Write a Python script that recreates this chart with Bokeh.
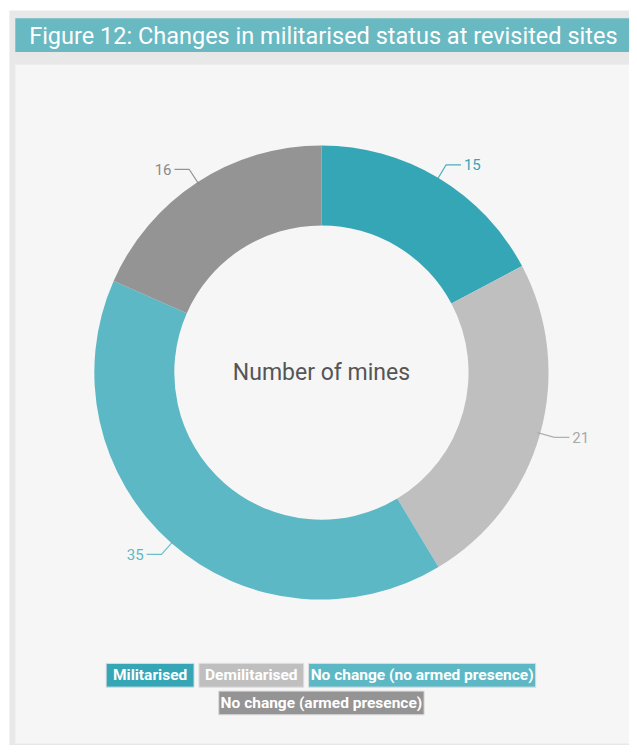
import math
from bokeh.plotting import figure
from bokeh.models import Range1d, ColumnDataSource
from bokeh.core.properties import value
from bokeh.embed import file_html
from bokeh.resources import INLINE

# ---- data ----
title = "Figure 12: Changes in militarised status at revisited sites"
categories = ["Militarised", "Demilitarised", "No change (no armed presence)", "No change (armed presence)"]
counts = [15, 21, 35, 16]
colors = ["#35a6b6", "#bfbfbf", "#5db8c5", "#949494"]
label_colors = ["#35a6b6", "#a8a8a8", "#5db8c5", "#8a8a8a"]
center_label = "Number of mines"

W, H = 629, 745
RW, RH = 637, 753  # reference coordinate space
FONT = "Roboto"

def Y(y):
    return RH - y

p = figure(width=W, height=H, output_backend="svg", toolbar_location=None,
           x_range=Range1d(0, RW), y_range=Range1d(0, RH),
           min_border=0, outline_line_color=None)
p.axis.visible = False
p.grid.visible = False
p.background_fill_color = "#ffffff"
p.border_fill_color = "#ffffff"

# outer frame / panel / title bar
p.quad(left=[9], right=[RW], top=[Y(10)], bottom=[Y(RH)], fill_color="#e8e8e8", line_color=None)
p.quad(left=[15], right=[RW], top=[Y(65)], bottom=[Y(751)], fill_color="#f6f6f6", line_color=None)
p.quad(left=[15], right=[RW], top=[Y(18)], bottom=[Y(52)], fill_color="#69b9c3", line_color=None)
p.text(x=[29], y=[Y(36)], text=[title], text_color="#ffffff", text_font=value(FONT),
       text_font_size="23.5px", text_align="left", text_baseline="middle")

# donut
cx, cy = 325, Y(376)
r_out, r_in = 230, 149
total = sum(counts)
starts, ends, mids = [], [], []
cum = 0
for c in counts:
    a0 = math.pi / 2 - 2 * math.pi * cum / total
    a1 = math.pi / 2 - 2 * math.pi * (cum + c) / total
    starts.append(a0)
    ends.append(a1)
    mids.append((a0 + a1) / 2)
    cum += c
src = ColumnDataSource(dict(start=starts, end=ends, color=colors, cat=categories, n=counts))
p.annular_wedge(x=cx, y=cy, inner_radius=r_in, outer_radius=r_out, start_angle="start",
                end_angle="end", direction="clock", fill_color="color", line_color=None, source=src)

# leader lines and labels
for n, m, lc in zip(counts, mids, label_colors):
    x1 = cx + 227 * math.cos(m)
    y1 = cy + 227 * math.sin(m)
    x2 = cx + 245 * math.cos(m)
    y2 = cy + 245 * math.sin(m)
    side = 1 if math.cos(m) >= 0 else -1
    x3 = x2 + side * 15
    p.line(x=[x1, x2, x3], y=[y1, y2, y2], line_color=lc, line_width=1.2, line_alpha=0.9)
    p.text(x=[x3 + side * 3], y=[y2], text=[str(n)], text_color=lc, text_font=value(FONT),
           text_font_size="15px", text_align="left" if side > 0 else "right", text_baseline="middle")

p.text(x=[cx], y=[cy], text=[center_label], text_color="#555555", text_font=value(FONT),
       text_font_size="23px", text_align="center", text_baseline="middle")

# legend boxes
leg_left = [107, 201, 312, 221]
leg_right = [196, 307, 542, 429]
leg_top = [670, 670, 670, 698]
leg_bot = [694, 694, 694, 722]
p.quad(left=leg_left, right=leg_right, top=[Y(t) for t in leg_top], bottom=[Y(b) for b in leg_bot],
       fill_color=colors, line_color="#dddddd", line_width=1)
for l, r, t, b, cat in zip(leg_left, leg_right, leg_top, leg_bot, categories):
    p.text(x=[(l + r) / 2], y=[Y((t + b) / 2)], text=[cat], text_color="#ffffff",
           text_font=value(FONT), text_font_size="15.5px", text_font_style="bold",
           text_align="center", text_baseline="middle")

open("out.html", "w").write(file_html(p, INLINE))
